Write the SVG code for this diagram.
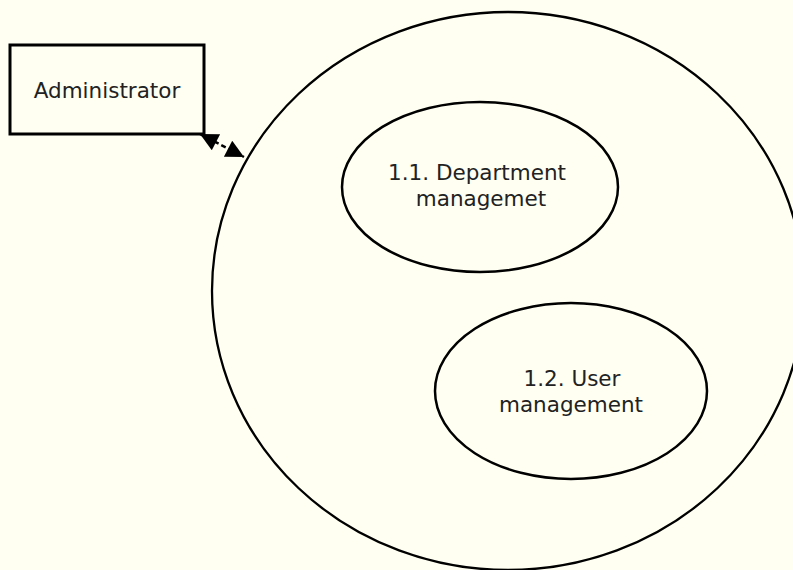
<svg xmlns="http://www.w3.org/2000/svg" width="793" height="570" viewBox="0 0 793 570">
<style>
.bg{fill:#fffff2}
.shape{fill:#fffff2;stroke:#000}
.lbl{font-family:"DejaVu Sans","Liberation Sans",sans-serif;font-size:21.5px;fill:#222;text-anchor:middle}
.conn{stroke:#000;stroke-width:2.5;fill:none;stroke-dasharray:5,3}
</style>
<defs>
<marker id="ah" viewBox="0 0 10 10" refX="10" refY="5" markerWidth="20" markerHeight="18" markerUnits="userSpaceOnUse" orient="auto-start-reverse">
<path d="M0,0 L10,5 L0,10 Z" fill="#000"/>
</marker>
</defs>
<rect class="bg" x="0" y="0" width="793" height="570"/>
<g id="context">
<ellipse class="shape" cx="508" cy="291" rx="296" ry="279" stroke-width="2.3"/>
</g>
<g id="administrator">
<rect class="shape" x="10" y="45" width="194" height="89" stroke-width="3"/>
<text class="lbl" x="107" y="98">Administrator</text>
</g>
<g id="department">
<ellipse class="shape" cx="480" cy="187" rx="138" ry="85" stroke-width="2.5"/>
<text class="lbl" x="477" y="180">1.1. Department</text>
<text class="lbl" x="481" y="206">managemet</text>
</g>
<g id="user">
<ellipse class="shape" cx="571" cy="391" rx="136" ry="88" stroke-width="2.5"/>
<text class="lbl" x="572" y="386">1.2. User</text>
<text class="lbl" x="571" y="412">management</text>
</g>
<g id="connectors">
<line class="conn" x1="200" y1="134" x2="244" y2="157" marker-start="url(#ah)" marker-end="url(#ah)"/>
</g>
</svg>
